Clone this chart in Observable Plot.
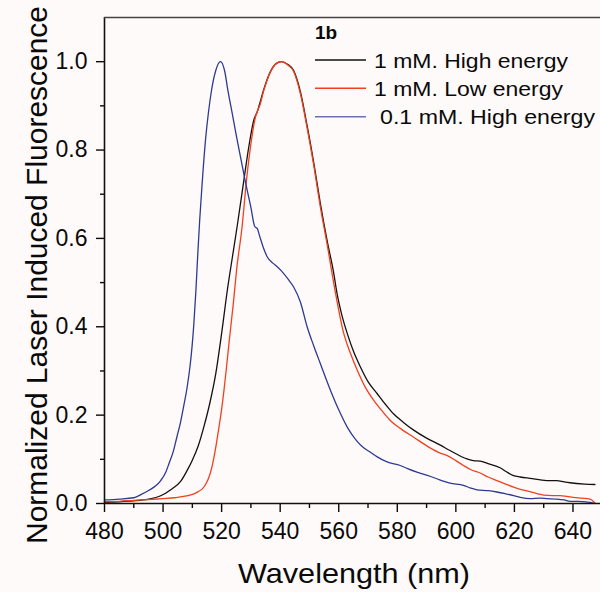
<!DOCTYPE html>
<html>
<head>
<meta charset="utf-8">
<script src="https://cdn.jsdelivr.net/npm/d3@7"></script>
<script src="https://cdn.jsdelivr.net/npm/@observablehq/plot@0.6"></script>
<style>
  html, body { margin: 0; padding: 0; background: #fffafa; }
  #chart { width: 600px; height: 592px; }
  svg { display: block; }
</style>
</head>
<body>
<div id="chart"></div>
<script>
// ---- Data ----
const seriesNames = ["1 mM. High energy", "1 mM. Low energy", " 0.1 mM. High energy"];
const seriesColors = ["#111111", "#f0401e", "#2c3a94"];

const wlHigh1 = [480,485,490,495,499,503,506,508,510,512,514,516,518,520,522,523.5,525.3,527.6,529.3,531,532.2,533,534.4,536.7,538.5,540.5,542.5,544.6,546.9,549.2,551.5,553.7,556,558.3,559.4,561,562.9,565,567.4,570,573.1,576,578.7,582,585.6,590,594.7,598,603.8,606,608.3,611,615.1,617,619.7,622,625.3,631,634.5,637,639,644,647.5];
const valHigh1 = [0.002,0.004,0.006,0.010,0.017,0.033,0.050,0.072,0.098,0.130,0.175,0.228,0.294,0.385,0.485,0.550,0.627,0.732,0.808,0.868,0.887,0.905,0.937,0.978,0.995,1.0,0.994,0.980,0.932,0.855,0.770,0.680,0.596,0.521,0.476,0.428,0.385,0.345,0.309,0.276,0.249,0.224,0.203,0.184,0.166,0.148,0.132,0.120,0.101,0.097,0.096,0.090,0.081,0.073,0.063,0.060,0.057,0.052,0.052,0.049,0.047,0.044,0.043];

const wlLow1 = [480,485,490,495,500,504,508,510.5,512,513.4,514.5,515.7,516.6,517.4,518.2,519.1,520,520.8,521.7,522.5,524,525.1,527,528.5,530.2,531.6,532.3,533,534.4,536.7,538.5,540.5,542.5,544.6,546.9,549.2,551.5,553.7,556,558.9,561.7,564,566.3,569,571.9,575,577.6,581,585.6,591.2,594.7,596.9,600,602.6,605,608.3,611,614,617,619.7,622,625.3,628,629.9,633,635.6,638,640.1,643,645.8,647.5];
const valLow1 = [0.004,0.005,0.007,0.009,0.011,0.013,0.017,0.022,0.027,0.033,0.043,0.060,0.080,0.105,0.135,0.173,0.213,0.256,0.310,0.362,0.453,0.528,0.627,0.732,0.823,0.876,0.890,0.900,0.935,0.977,0.995,1.0,0.993,0.978,0.928,0.850,0.764,0.672,0.588,0.476,0.385,0.340,0.302,0.264,0.234,0.208,0.188,0.170,0.150,0.126,0.114,0.109,0.097,0.086,0.077,0.069,0.060,0.052,0.044,0.037,0.032,0.027,0.022,0.019,0.018,0.018,0.016,0.014,0.012,0.010,0.001];

const wlHigh01 = [480,485,490,492.4,495.2,497.5,499.2,501,502,503.5,504.7,506,507.1,508.2,509.2,509.9,510.5,511.2,511.9,512.5,513.2,514.5,515.5,516.6,518,519.6,521,522.1,523.7,525.3,528,530,531.3,532.2,533,534.2,535.6,537.5,539,540.5,542.9,544.6,546.9,549.2,551.5,553.7,557.2,560,562.9,566,568.5,570.8,573,576.5,581,583.5,586.7,590,593.5,596,598,602.6,605,607.2,611,614,617,619.7,622,625.3,628.8,631,634.5,637,639,642,645,647];
const valHigh01 = [0.008,0.010,0.013,0.020,0.030,0.040,0.052,0.072,0.090,0.118,0.150,0.185,0.222,0.262,0.310,0.355,0.405,0.480,0.570,0.640,0.710,0.823,0.885,0.937,0.980,1.0,0.980,0.937,0.880,0.823,0.732,0.670,0.627,0.622,0.605,0.580,0.558,0.544,0.536,0.526,0.506,0.490,0.456,0.400,0.356,0.317,0.256,0.212,0.173,0.143,0.126,0.116,0.106,0.094,0.086,0.079,0.071,0.064,0.056,0.050,0.046,0.041,0.035,0.031,0.029,0.026,0.022,0.018,0.014,0.011,0.012,0.011,0.010,0.008,0.005,0.005,0.003,0.001];

const xMajorTicks = [480,500,520,540,560,580,600,620,640];
const xMinorTicks = [490,510,530,550,570,590,610,630];
const yMajorTicks = [0,0.2,0.4,0.6,0.8,1.0];
const yMinorTicks = [0.1,0.3,0.5,0.7,0.9];
const xDomain = [480, 649.4];
const yDomain = [0, 1.1];
const xTitle = "Wavelength (nm)";
const yTitle = "Normalized Laser Induced Fluorescence";
const legendTitle = "1b";

// ---- Build table ----
const toRows = (wl, v, s) => wl.map((w, i) => ({wl: w, v: v[i], s}));
const rows = [
  ...toRows(wlHigh1, valHigh1, seriesNames[0]),
  ...toRows(wlLow1, valLow1, seriesNames[1]),
  ...toRows(wlHigh01, valHigh01, seriesNames[2])
];

const font = "'Liberation Sans', Arial, sans-serif";

const plot = Plot.plot({
  width: 600,
  height: 592,
  marginLeft: 104,
  marginRight: 0,
  marginTop: 17,
  marginBottom: 89,
  style: {background: "#fffafa", fontFamily: font, fontSize: "23px", color: "#0a0a0a"},
  x: {domain: xDomain},
  y: {domain: yDomain},
  color: {domain: seriesNames, range: seriesColors},
  marks: [
    Plot.axisX({ticks: xMajorTicks, tickSize: 9, tickPadding: 10, fontSize: 23, label: null, strokeWidth: 1.4}),
    Plot.axisX({ticks: xMinorTicks, tickSize: 5, text: null, label: null, strokeWidth: 1.4}),
    Plot.axisY({ticks: yMajorTicks, tickSize: 8, tickPadding: 9, fontSize: 23, tickFormat: d3.format(".1f"), label: null, strokeWidth: 1.4}),
    Plot.axisY({ticks: yMinorTicks, tickSize: 4, text: null, label: null, strokeWidth: 1.4}),
    Plot.line(rows, {x: "wl", y: "v", z: "s", stroke: "s", strokeWidth: 1.3, curve: "monotone-x"}),
    Plot.ruleX([xDomain[0]], {stroke: "#111", strokeWidth: 1.6}),
    Plot.ruleY([yDomain[0]], {stroke: "#111", strokeWidth: 1.6}),
    Plot.ruleY([yDomain[1]], {stroke: "#444", strokeWidth: 1.6})
  ]
});

document.getElementById("chart").appendChild(plot);

// ---- Titles and legend ----
const svg = d3.select(plot);
svg.append("text")
  .attr("x", 354).attr("y", 583)
  .attr("text-anchor", "middle")
  .attr("font-family", font).attr("font-size", 28)
  .attr("textLength", 232).attr("lengthAdjust", "spacingAndGlyphs")
  .attr("fill", "#0a0a0a")
  .text(xTitle);

svg.append("text")
  .attr("transform", "translate(47,275) rotate(-90)")
  .attr("text-anchor", "middle")
  .attr("font-family", font).attr("font-size", 29)
  .attr("textLength", 538).attr("lengthAdjust", "spacingAndGlyphs")
  .attr("fill", "#0a0a0a")
  .text(yTitle);

svg.append("text")
  .attr("x", 315).attr("y", 39)
  .attr("text-anchor", "start")
  .attr("font-family", font).attr("font-size", 19).attr("font-weight", "bold")
  .attr("fill", "#0a0a0a")
  .text(legendTitle);

const legendY = [60, 88.3, 116.7];
const legendX = [374, 374, 380];
const legendLen = [194, 189, 215];
seriesNames.forEach((name, i) => {
  svg.append("line")
    .attr("x1", 315).attr("x2", 366)
    .attr("y1", legendY[i]).attr("y2", legendY[i])
    .attr("stroke", seriesColors[i]).attr("stroke-width", 1.5)
    .attr("opacity", i === 2 ? 0.7 : 1);
  svg.append("text")
    .attr("x", legendX[i]).attr("y", legendY[i] + 7.5)
    .attr("text-anchor", "start")
    .attr("font-family", font).attr("font-size", 21)
    .attr("textLength", legendLen[i]).attr("lengthAdjust", "spacingAndGlyphs")
    .attr("fill", "#0a0a0a")
    .text(name.trim());
});
</script>
</body>
</html>
